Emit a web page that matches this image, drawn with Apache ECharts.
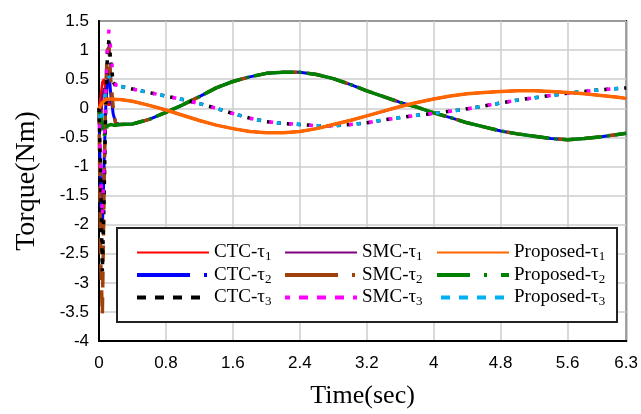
<!DOCTYPE html>
<html>
<head>
<meta charset="utf-8">
<script src="https://cdn.jsdelivr.net/npm/echarts@6/dist/echarts.min.js"></script>
<style>
  html, body { margin: 0; padding: 0; background: #fff; }
  #chart { width: 641px; height: 414px; }
</style>
</head>
<body>
<div id="chart"></div>
<script>
// time samples: dense start-up part, then the slow part
const timeStart = [0, 0.02, 0.04, 0.06, 0.08, 0.1, 0.12, 0.14, 0.17, 0.2];
const timeRest = [0.25, 0.4, 0.6, 0.8, 1.0, 1.2, 1.4, 1.6, 1.8, 2.0, 2.2, 2.4, 2.6, 2.8, 3.0,
    3.2, 3.4, 3.6, 3.8, 4.0, 4.2, 4.4, 4.6, 4.8, 5.0, 5.2, 5.4, 5.6, 5.8, 6.0, 6.2, 6.3];

// start-up values of each controller
const ctcTau1Start = [0, 0.2, 0.45, 0.5, 0.3, 0.1, 0.05, 0.1, 0.15, 0.15];
const smcTau1Start = [0, -0.3, 0.2, 0.35, 0.25, 0.15, 0.1, 0.12, 0.15, 0.15];
const propTau1Start = [0, 0.05, 0.1, 0.13, 0.15, 0.16, 0.16, 0.16, 0.16, 0.15];
const ctcTau2Start = [0, -1.5, -2.1, -1.0, 0.0, 0.45, 0.6, 0.25, -0.1, -0.25];
const smcTau2Start = [0, -2.6, -3.55, -1.5, 0.3, 1.0, 1.05, 0.5, 0.0, -0.28];
const propTau2Start = [-0.05, -0.1, -0.3, -0.47, -0.4, -0.3, -0.28, -0.28, -0.29, -0.29];
const ctcTau3Start = [0, -1.2, -2.8, -1.6, 0.0, 0.9, 1.2, 0.8, 0.45, 0.38];
const smcTau3Start = [0, -1.0, -1.9, -1.0, 0.2, 1.0, 1.37, 1.0, 0.5, 0.4];
const propTau3Start = [0, -0.3, -0.1, 0.1, 0.3, 0.5, 0.55, 0.45, 0.4, 0.38];

// after start-up the three controllers overlap
const tau1Rest = [0.15, 0.12, 0.05, -0.03, -0.12, -0.21, -0.29, -0.35, -0.4, -0.42, -0.42, -0.4,
    -0.35, -0.28, -0.21, -0.13, -0.05, 0.03, 0.1, 0.16, 0.21, 0.25, 0.27, 0.29, 0.3, 0.3, 0.29,
    0.27, 0.25, 0.22, 0.19, 0.17];
const tau2Rest = [-0.28, -0.27, -0.19, -0.07, 0.06, 0.2, 0.35, 0.46, 0.54, 0.6, 0.62, 0.62, 0.58,
    0.51, 0.41, 0.3, 0.2, 0.1, 0.02, -0.08, -0.16, -0.25, -0.32, -0.39, -0.44, -0.48, -0.52, -0.54,
    -0.52, -0.49, -0.45, -0.43];
const tau3Rest = [0.38, 0.33, 0.27, 0.21, 0.15, 0.08, 0.0, -0.09, -0.17, -0.23, -0.26, -0.28, -0.3,
    -0.3, -0.28, -0.25, -0.2, -0.16, -0.12, -0.09, -0.05, -0.01, 0.04, 0.09, 0.14, 0.18, 0.22, 0.26,
    0.29, 0.32, 0.34, 0.35];

const xTicks = { min: 0, max: 6.3, interval: 0.8 };
const yTicks = { min: -4, max: 1.5, interval: 0.5 };

const serif = 'Liberation Serif';
const sans = 'Liberation Sans';

const chart = echarts.init(document.getElementById('chart'));

function pairs(start, rest) {
    const t = timeStart.concat(timeRest);
    const v = start.concat(rest);
    return t.map((x, i) => [x, v[i]]);
}

const dashDot = [40, 5, 3, 5];
const dotted = [4, 6];

function line(name, start, rest, color, width, type, offset) {
    return {
        name: name,
        type: 'line',
        data: pairs(start, rest),
        showSymbol: false,
        symbol: 'none',
        lineStyle: { color: color, width: width, type: type || 'solid', dashOffset: offset || 0 },
        itemStyle: { color: color }
    };
}

const series = [
    line('CTC-τ1', ctcTau1Start, tau1Rest, '#ff0000', 2.5),
    line('SMC-τ1', smcTau1Start, tau1Rest, '#800080', 2.5),
    line('CTC-τ2', ctcTau2Start, tau2Rest, '#0000ff', 3, 'solid'),
    line('SMC-τ2', smcTau2Start, tau2Rest, '#a0400a', 3.5, [16, 10], 0),
    line('Proposed-τ2', propTau2Start, tau2Rest, '#008000', 3.5, dashDot, 20),
    line('CTC-τ3', ctcTau3Start, tau3Rest, '#000000', 3.5, dotted, 0),
    line('SMC-τ3', smcTau3Start, tau3Rest, '#ff00ff', 3.5, [4, 16], 4),
    line('Proposed-τ3', propTau3Start, tau3Rest, '#00b0f0', 3.5, [4, 16], 14),
    line('Proposed-τ1', propTau1Start, tau1Rest, '#ff6600', 3.5)
];

function legendAt(left, names) {
    return {
        orient: 'vertical',
        left: left,
        top: 238,
        itemGap: 2,
        itemWidth: 72,
        itemHeight: 14,
        z: 10,
        itemStyle: { opacity: 0 },
        data: names.map(n => {
            const item = { name: n };
            if (n.endsWith('3')) {
                item.lineStyle = { type: [9, 9], width: 4 };
            } else if (n.endsWith('2')) {
                item.lineStyle = { type: [53, 14, 3, 14], width: 4 };
            }
            return item;
        }),
        formatter: n => '{a|' + n.slice(0, -1) + '}{s|' + n.slice(-1) + '}',
        textStyle: {
            rich: {
                a: { fontFamily: serif, fontSize: 19, color: '#000' },
                s: { fontFamily: serif, fontSize: 13, color: '#000', padding: [9, 0, 0, 0] }
            }
        }
    };
}

const option = {
    animation: false,
    backgroundColor: '#fff',
    grid: {
        left: 99,
        right: 13,
        top: 21,
        bottom: 70,
        show: true,
        borderColor: '#000',
        borderWidth: 2
    },
    xAxis: {
        type: 'value',
        min: xTicks.min,
        max: xTicks.max,
        interval: xTicks.interval,
        name: 'Time(sec)',
        nameLocation: 'middle',
        nameGap: 42,
        nameTextStyle: { fontFamily: serif, fontSize: 26, color: '#000' },
        axisLine: { onZero: false, lineStyle: { color: '#000', width: 2 } },
        axisTick: { show: false },
        axisLabel: { fontFamily: sans, fontSize: 17, color: '#000', margin: 14 },
        splitLine: { lineStyle: { color: '#cccccc', width: 1.5 } }
    },
    yAxis: {
        type: 'value',
        min: yTicks.min,
        max: yTicks.max,
        interval: yTicks.interval,
        name: 'Torque(Nm)',
        nameLocation: 'middle',
        nameGap: 58,
        nameTextStyle: { fontFamily: serif, fontSize: 28, color: '#000' },
        axisLine: { onZero: false, lineStyle: { color: '#000', width: 2 } },
        axisTick: { show: false },
        axisLabel: { fontFamily: sans, fontSize: 17, color: '#000', margin: 10 },
        splitLine: { lineStyle: { color: '#cccccc', width: 1.5 } }
    },
    legend: [
        legendAt(130, ['CTC-τ1', 'CTC-τ2', 'CTC-τ3']),
        legendAt(278, ['SMC-τ1', 'SMC-τ2', 'SMC-τ3']),
        legendAt(430, ['Proposed-τ1', 'Proposed-τ2', 'Proposed-τ3'])
    ],
    graphic: [{
        type: 'rect',
        z: 3,
        shape: { x: 117, y: 228, width: 500, height: 94 },
        style: { fill: '#fff', stroke: '#222', lineWidth: 2 }
    }],
    series: series
};

chart.setOption(option);
window.addEventListener('resize', function () {
    chart.resize();
});
</script>
</body>
</html>
